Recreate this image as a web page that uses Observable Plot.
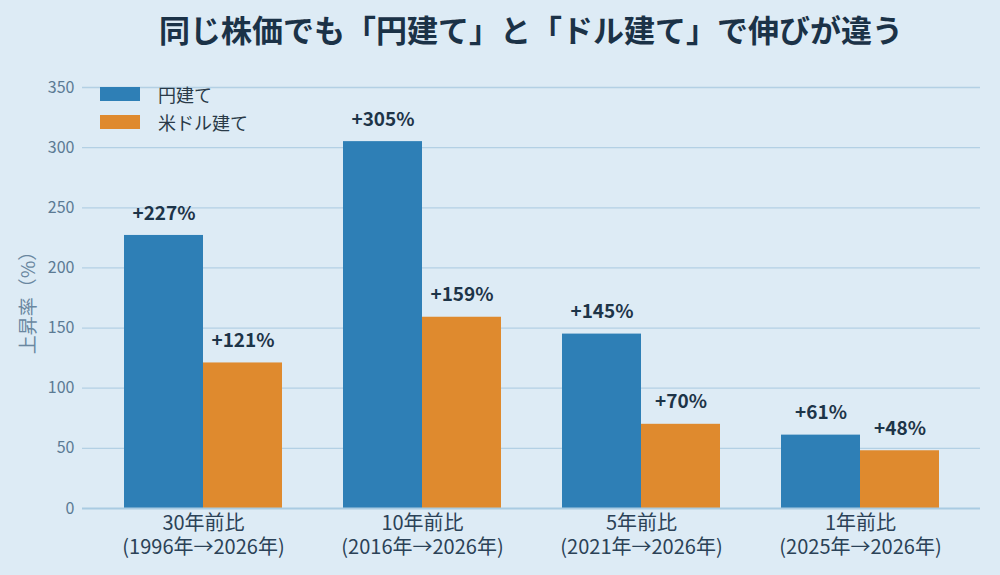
<!DOCTYPE html>
<html>
<head>
<meta charset="utf-8">
<script src="https://cdn.jsdelivr.net/npm/d3@7"></script>
<script src="https://cdn.jsdelivr.net/npm/@observablehq/plot@0.6"></script>
<style>
  html, body { margin: 0; padding: 0; background: #ddebf5; }
  #wrap { position: relative; width: 1000px; height: 575px; background: #ddebf5; font-family: 'Noto Sans CJK JP', 'Noto Sans', sans-serif; overflow: hidden; }
  #title { height: 60px; line-height: 58px; width: 898px; margin-left: 82px; text-align: center; font-size: 31px; font-weight: bold; color: #1b3247; }
  .leg { position: absolute; left: 100px; display: flex; align-items: center; font-size: 18px; color: #2a3a48; }
  .sw { width: 40px; height: 14px; margin-right: 18px; }
</style>
</head>
<body>
<div id="wrap">
  <div id="title">同じ株価でも「円建て」と「ドル建て」で伸びが違う</div>
  <div id="chart"></div>
  <div id="legend"></div>
</div>
<script>
const categories = [
  "30年前比\n(1996年→2026年)",
  "10年前比\n(2016年→2026年)",
  "5年前比\n(2021年→2026年)",
  "1年前比\n(2025年→2026年)"
];
const series = ["円建て", "米ドル建て"];
const yenValues = [227, 305, 145, 61];
const usdValues = [121, 159, 70, 48];
const yTicks = [0, 50, 100, 150, 200, 250, 300, 350];
const yLabel = "上昇率（%）";
const colors = ["#2e7fb6", "#df8a2e"];

const yenData = categories.map((c, i) => ({category: c, value: yenValues[i]}));
const usdData = categories.map((c, i) => ({category: c, value: usdValues[i]}));

const W = 1000, ML = 82, MR = 20;
const padIn = 0.28, padOut = 0.186;
const step = (W - ML - MR) / (categories.length - padIn + 2 * padOut);
const half = step * (1 - padIn) / 2;

const labelOpts = {x: "category", y: "value", text: d => `+${d.value}%`, dy: -22, fontSize: 19, fontWeight: "bold", fill: "#1d3448"};

const chart = Plot.plot({
  width: W,
  height: 515,
  marginLeft: ML,
  marginRight: MR,
  marginTop: 27,
  marginBottom: 67,
  style: {background: "transparent", fontFamily: "'Noto Sans CJK JP', sans-serif", overflow: "visible"},
  x: {domain: categories, paddingInner: padIn, paddingOuter: padOut, label: null},
  y: {domain: [0, 350]},
  marks: [
    Plot.gridY(yTicks.filter(d => d > 0), {stroke: "#b3d0e4", strokeOpacity: 1, strokeWidth: 1.3}),
    Plot.barY(yenData, {x: "category", y: "value", fill: colors[0], insetRight: half}),
    Plot.barY(usdData, {x: "category", y: "value", fill: colors[1], insetLeft: half}),
    Plot.ruleY([0], {stroke: "#a9cbe2", strokeWidth: 2}),
    Plot.text(yenData, {...labelOpts, dx: -half / 2}),
    Plot.text(usdData, {...labelOpts, dx: half / 2}),
    Plot.axisY(yTicks, {tickSize: 0, tickPadding: 8, fontSize: 16, color: "#5b7a94", label: null}),
    Plot.text([yLabel], {frameAnchor: "left", textAnchor: "middle", rotate: -90, dx: -54, fontSize: 19, fill: "#6a87a0"}),
    Plot.axisX({tickSize: 0, tickPadding: 4, fontSize: 20, lineHeight: 1.2, fill: "#2b4257", label: null})
  ]
});
document.getElementById("chart").appendChild(chart);

const legend = document.getElementById("legend");
series.forEach((s, i) => {
  const row = document.createElement("div");
  row.className = "leg";
  row.style.top = (i === 0 ? 81 : 109) + "px";
  row.innerHTML = `<div class="sw" style="background:${colors[i]}"></div><span>${s}</span>`;
  legend.appendChild(row);
});
</script>
</body>
</html>
